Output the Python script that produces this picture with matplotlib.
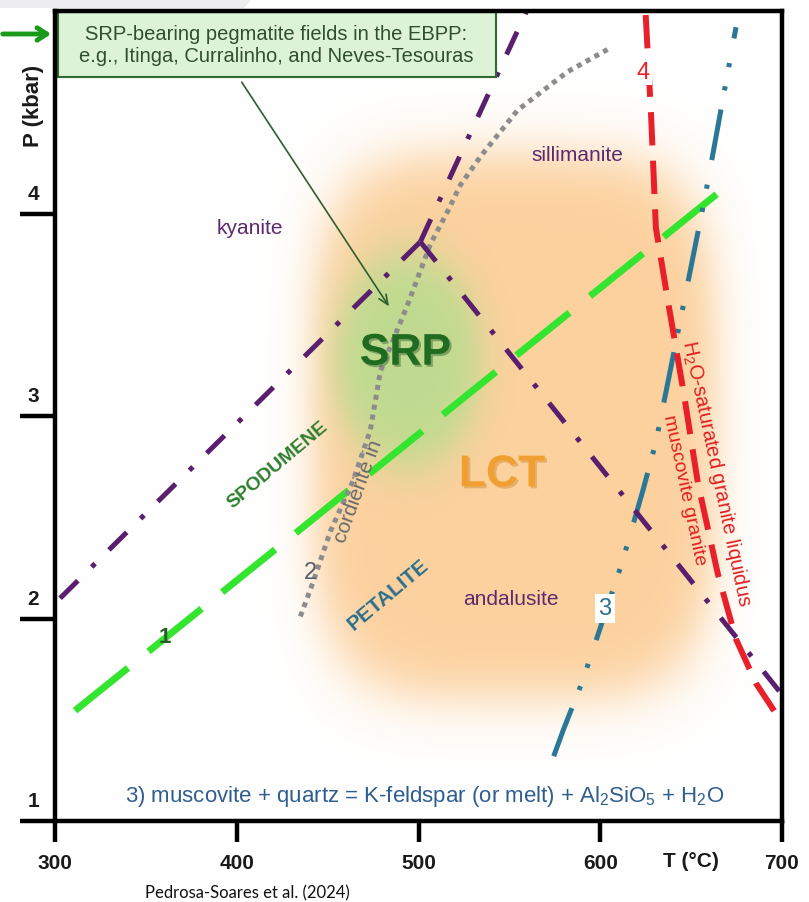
import numpy as np
import matplotlib
matplotlib.use('Agg')
import matplotlib.pyplot as plt
import matplotlib.patheffects as pe
from matplotlib.patches import Rectangle, Polygon
from matplotlib import transforms

plt.rcParams['font.family'] = ['Liberation Sans', 'DejaVu Sans']
plt.rcParams['mathtext.fontset'] = 'custom'
plt.rcParams['mathtext.rm'] = 'Liberation Sans'
plt.rcParams['mathtext.it'] = 'Liberation Sans:italic'
plt.rcParams['mathtext.bf'] = 'Liberation Sans:bold'
plt.rcParams['mathtext.default'] = 'regular'
plt.rcParams['lines.scale_dashes'] = False

# ---------------- data ----------------
x_ticks = [300, 400, 500, 600, 700]
y_ticks = [1, 2, 3, 4]

# 1: spodumene / petalite boundary
line1_T = [311, 673]
line1_P = [1.545, 4.16]

# 2: cordierite-in
cord_T = [435, 442, 451.5, 464, 473.5, 479, 494, 506.6, 516, 523, 534, 554.5, 582, 604]
cord_P = [2.01, 2.18, 2.43, 2.68, 2.93, 3.22, 3.55, 3.85, 4.01, 4.14, 4.28, 4.51, 4.70, 4.81]

# 3: muscovite + quartz
ms_T = [574.4, 579.9, 589.8, 611.8, 623.4, 630.6, 657.6, 662.5, 674.7]
ms_P = [1.32, 1.455, 1.68, 2.27, 2.63, 2.87, 4.08, 4.32, 4.92]

# 4: H2O-saturated granite liquidus
liq_T = [625, 628, 630.6, 637, 646, 653.7, 664.7, 674.6, 685.7, 696.7]
liq_P = [4.98, 4.48, 3.93, 3.58, 3.11, 2.67, 2.22, 1.90, 1.68, 1.53]

# Al2SiO5 triple point reactions
ky_and_T = [302.8, 501]
ky_and_P = [2.10, 3.86]
ky_sil_T = [501, 560]
ky_sil_P = [3.86, 5.01]
and_sil_T = [501, 699.5]
and_sil_P = [3.86, 1.63]

# ---------------- figure ----------------
fig = plt.figure(figsize=(8.09, 9.03), dpi=100)
fig.patches.append(Polygon([[0, 903], [252, 903], [244, 894], [0, 894]], closed=True,
                           transform=None, fc='#EDEDF0', ec='none', zorder=0))
ax = fig.add_axes([55/809, 81/903, 727/809, 810/903])
ax.set_xlim(300, 700)
ax.set_ylim(1, 5)

# soft background fields
TT, PP = np.meshgrid(np.linspace(300, 700, 600), np.linspace(1, 5, 600))
u = (TT - 553) / 117.0
v = (PP - 2.95) / 1.42
d = (np.abs(u)**4 + np.abs(v)**4)**0.25
a_or = 1.0 / (1.0 + np.exp((d - 0.95) / 0.055))
ug = (TT - 494) / 47.0
vg = (PP - 3.28) / 0.62
dg = np.sqrt(ug**2 + vg**2)
a_gr = 1.0 / (1.0 + np.exp((dg - 0.85) / 0.11))
white = np.array([1, 1, 1])
orange = np.array([0xFC, 0xD1, 0x9E]) / 255
green = np.array([0xBF, 0xDB, 0x90]) / 255
img = white[None, None, :] * (1 - a_or[..., None]) + orange[None, None, :] * a_or[..., None]
img = img * (1 - a_gr[..., None]) + green[None, None, :] * a_gr[..., None]
ax.imshow(img, extent=[300, 700, 1, 5], origin='lower', aspect='auto', zorder=0,
          interpolation='bilinear')

# lines
ax.plot(line1_T, line1_P, color='#33E52E', lw=5, dashes=(49, 19), solid_capstyle='butt',
        dash_capstyle='butt', zorder=3)
ax.plot(cord_T, cord_P, color='#8C8C8C', lw=3.6, dashes=(3.6, 3.6), zorder=3)
ax.plot(ms_T, ms_P, color='#2A7896', lw=3.6, dashes=(37, 14, 3, 14, 3, 18), zorder=3)
ax.plot(liq_T, liq_P, color='#E8202A', lw=4.3, dashes=(24, 11), zorder=3)
purple = '#5A1E6E'
for T_, P_ in [(ky_and_T, ky_and_P), (ky_sil_T, ky_sil_P), (and_sil_T, and_sil_P)]:
    ax.plot(T_, P_, color=purple, lw=3.6, dashes=(18, 14, 3.5, 14), zorder=3)

# labels
mineral_c = '#5E2A6E'
ax.text(407.4, 3.93, 'kyanite', color=mineral_c, fontsize=15, ha='center', va='center')
ax.text(587.6, 4.29, 'sillimanite', color=mineral_c, fontsize=15, ha='center', va='center')
ax.text(550.7, 2.10, 'andalusite', color=mineral_c, fontsize=15, ha='center', va='center')
ax.text(422.3, 2.76, 'SPODUMENE', color='#2F7F2F', fontsize=14, fontweight='bold', rotation=40,
        ha='center', va='center', zorder=4)
ax.text(483.5, 2.12, 'PETALITE', color='#2B6E8C', fontsize=15, fontweight='bold', rotation=40,
        ha='center', va='center', zorder=4)
ax.text(467, 2.63, 'cordierite in', color='#6A6A6A', fontsize=15, rotation=70,
        ha='center', va='center', zorder=4)
ax.text(440.5, 2.23, '2', color='#555F6F', fontsize=17, ha='center', va='center', zorder=4)
ax.text(360.6, 1.91, '1', color='#2A5A2A', fontsize=16, fontweight='bold', ha='center', va='center',
        zorder=4)
ax.text(623.4, 4.70, '4', color='#E8202A', fontsize=17, ha='center', va='center', zorder=4,
        bbox=dict(boxstyle='square,pad=0.1', fc='white', ec='none'))
ax.text(602.5, 2.05, '3', color='#2B6E8C', fontsize=17, ha='center', va='center', zorder=4,
        bbox=dict(boxstyle='square,pad=0.15', fc='white', ec='none'))
ax.text(664, 2.72, 'H$_2$O-saturated granite liquidus', color='#E02020', fontsize=14.5,
        rotation=-78, ha='center', va='center', zorder=4)
ax.text(646.5, 2.64, 'muscovite granite', color='#E02020', fontsize=14,
        rotation=-78, ha='center', va='center', zorder=4)

ax.text(492.8, 3.31, 'SRP', color='#1F6B1F', fontsize=32, fontweight='bold', ha='center', va='center',
        zorder=4,
        path_effects=[pe.withSimplePatchShadow(offset=(1.5, -1.5), shadow_rgbFace='#2F5F2F', alpha=0.45)])
ax.text(546, 2.71, 'LCT', color='#F0A030', fontsize=32, fontweight='bold', ha='center', va='center',
        zorder=4,
        path_effects=[pe.withSimplePatchShadow(offset=(1.5, -1.5), shadow_rgbFace='#C07010', alpha=0.35)])

ax.text(0.509, 1.124, '3) muscovite + quartz = K-feldspar (or melt) + Al$_2$SiO$_5$ + H$_2$O',
        color='#2E5E8E', fontsize=16, ha='center', va='center',
        transform=transforms.blended_transform_factory(ax.transAxes, ax.transData), zorder=4)

# annotation box & arrow
ax.add_patch(Rectangle((301.7, 4.675), 240.7, 0.32, fc='#DDF3D5', ec='#2E6B2E', lw=1.5,
                       zorder=5, clip_on=False))
ax.text(421.8, 4.835, 'SRP-bearing pegmatite fields in the EBPP:\ne.g., Itinga, Curralinho, and Neves-Tesouras',
        color='#2F4F2F', fontsize=14.5, ha='center', va='center', linespacing=1.15, zorder=6)
ax.annotate('', xy=(484.6, 3.53), xytext=(401.9, 4.66),
            arrowprops=dict(arrowstyle='->,head_length=0.7,head_width=0.3', color='#2E5E2E', lw=1.2),
            zorder=5)

# outside green arrow
ax.annotate('', xy=(54, 868), xytext=(0, 868), xycoords='figure pixels', textcoords='figure pixels',
            arrowprops=dict(arrowstyle='->,head_length=0.7,head_width=0.45', color='#1A9A1A', lw=3.5),
            annotation_clip=False)

# axes styling
for s in ax.spines.values():
    s.set_linewidth(3.2)
    s.set_color('black')
    s.set_zorder(7)
ax.set_xticks(x_ticks)
ax.set_xticklabels([str(t) for t in x_ticks])
ax.set_yticks(y_ticks)
ax.set_yticklabels([])
ax.tick_params(axis='x', direction='out', length=15, width=3.2, pad=8, labelsize=15, colors='black')
ax.tick_params(axis='y', direction='out', length=25, width=3.2, labelsize=15)
for lab in ax.get_xticklabels():
    lab.set_fontweight('bold')
    lab.set_color('#1A1A1A')
yt = transforms.blended_transform_factory(ax.transAxes, ax.transData)
for t in y_ticks:
    ax.text(-0.030, t + 0.1, str(t), transform=yt, ha='center', va='center', fontsize=15,
            fontweight='bold', color='#1A1A1A', clip_on=False)
ax.text(-0.030, 0.884, 'P (kbar)', transform=ax.transAxes, rotation=90, ha='center', va='center',
        fontsize=16, fontweight='bold', color='#1A1A1A', clip_on=False)
xt = transforms.blended_transform_factory(ax.transData, ax.transAxes)
ax.text(650, -0.049, 'T (\u00b0C)', transform=xt, ha='center', va='center', fontsize=15,
        fontweight='bold', color='#1A1A1A', clip_on=False)

fig.text(145/809, 1 - 893/903, 'Pedrosa-Soares et al. (2024)', fontsize=12, ha='left', va='center',
         family=['Lato', 'DejaVu Sans'], color='#111111')

fig.savefig('out.png', dpi=100)
